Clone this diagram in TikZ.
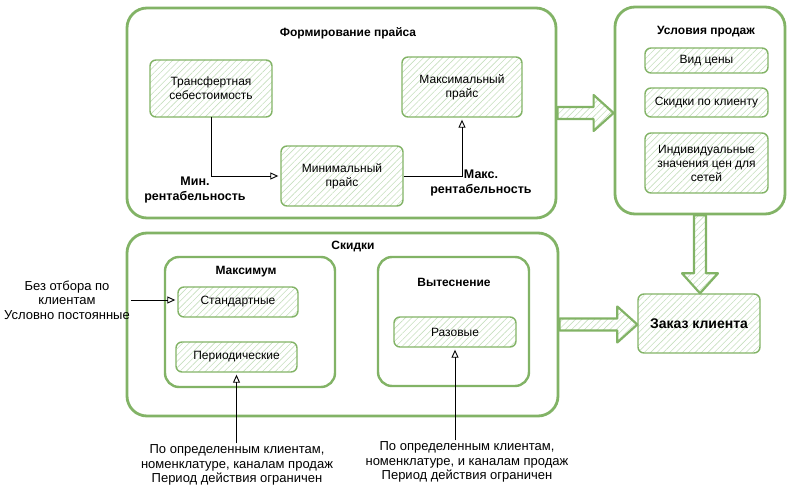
\documentclass[tikz,border=0pt]{standalone}
\usepackage{fontspec}
\setmainfont{Liberation Sans}
\usetikzlibrary{arrows.meta,calc,patterns.meta}
\definecolor{sketchgreen}{HTML}{82B366}
\definecolor{hatchgreen}{HTML}{C6DFBE}

\begin{document}
\begin{tikzpicture}[x=1pt,y=-1pt]
    \tikzstyle{cont}=[draw=sketchgreen,line width=2.8pt,rounded corners=20pt,inner sep=0]
    \tikzstyle{sub}=[draw=sketchgreen,line width=2.4pt,rounded corners=14pt,inner sep=0]
    \tikzstyle{box}=[draw=sketchgreen,line width=1.4pt,rounded corners=6pt,inner sep=0,align=center,
        pattern={Lines[angle=45,distance=4.5pt,line width=0.6pt]},pattern color=hatchgreen,
        font=\fontsize{12}{14}\selectfont]
    \tikzstyle{ttl}=[font=\fontsize{12}{14}\selectfont\bfseries]
    \tikzstyle{lbl}=[align=center,inner sep=1pt,font=\fontsize{13}{14.5}\selectfont]
    \tikzstyle{blbl}=[lbl,font=\fontsize{12.5}{14.5}\selectfont\bfseries]
    \tikzstyle{arr}=[draw=black,line width=0.9pt,-{Triangle[open,length=8pt,width=7pt]},shorten >=2pt]
    \tikzstyle{flex}=[draw=sketchgreen,line width=2.2pt,line join=round,
        pattern={Lines[angle=45,distance=4.5pt,line width=0.6pt]},pattern color=hatchgreen]
    \newcommand{\flexarrow}[2]{
        \path ($(#2)!20pt!(#1)$) coordinate (hb);
        \draw[flex] ($(#1)!6pt!90:(#2)$) -- ($(hb)!6pt!-90:(#1)$) -- ($(hb)!18pt!-90:(#1)$)
            -- (#2) -- ($(hb)!18pt!90:(#1)$) -- ($(hb)!6pt!90:(#1)$) -- ($(#1)!6pt!-90:(#2)$) -- cycle;
    }
    \useasboundingbox (0,0) rectangle (796,494);

    % containers
    \path (341.5,113) node[cont,minimum width=429,minimum height=210] (fp) {};
    \path (700,110.5) node[cont,minimum width=170,minimum height=207] (usl) {};
    \path (342.5,324.5) node[cont,minimum width=431,minimum height=183] (sk) {};
    \path (250,322) node[sub,minimum width=170,minimum height=130] (mx) {};
    \path (453.5,321.5) node[sub,minimum width=151,minimum height=129] (vyt) {};

    \path (348,33) node[ttl] (fpt) {Формирование прайса};
    \path (706,32) node[ttl] (uslt) {Условия продаж};
    \path (353,247) node[ttl] (skt) {Скидки};
    \path (246,272) node[ttl] (mxt) {Максимум};
    \path (454,282) node[ttl] (vytt) {Вытеснение};

    % boxes
    \path (211,88.5) node[box,minimum width=122,minimum height=57] (trans) {Трансфертная\\себестоимость};
    \path (462,87) node[box,minimum width=120,minimum height=60] (maxp) {Максимальный\\прайс};
    \path (342,176) node[box,minimum width=122,minimum height=60] (minp) {Минимальный\\прайс};
    \path (706.5,60.5) node[box,minimum width=123,minimum height=25] (vid) {Вид цены};
    \path (706.5,102.5) node[box,minimum width=123,minimum height=29] (skk) {Скидки по клиенту};
    \path (706.5,163) node[box,minimum width=123,minimum height=60] (ind) {Индивидуальные\\значения цен для\\сетей};
    \path (238,302) node[box,minimum width=120,minimum height=30] (std) {Стандартные};
    \path (236.5,357) node[box,minimum width=121,minimum height=30] (per) {Периодические};
    \path (455,332) node[box,minimum width=122,minimum height=30] (raz) {Разовые};
    \path (699,323.5) node[box,minimum width=122,minimum height=59,font=\fontsize{14}{16}\selectfont\bfseries] (zak) {Заказ клиента};

    % labels
    \path (195,190) node[blbl] (lmin) {Мин.\\рентабельность};
    \path (481,183) node[blbl] (lmax) {Макс.\\рентабельность};
    \path (67,300) node[lbl] (lbez) {Без отбора по\\клиентам\\Условно постоянные};
    \path (237,465) node[lbl] (lper) {По определенным клиентам,\\номенклатуре, каналам продаж\\Период действия ограничен};
    \path (467,462) node[lbl] (lraz) {По определенным клиентам,\\номенклатуре, и каналам продаж\\Период действия ограничен};

    % arrows
    \draw[arr] (trans.south) |- (minp.west);
    \draw[arr] (minp.east) -| (maxp.south);
    \draw[arr] (lbez.east) -- (lbez.east -| std.west);
    \draw[arr] (per.south |- lper.north) -- (per.south);
    \draw[arr] (raz.south |- lraz.north) -- (raz.south);

    % big arrows
    \coordinate (f1a) at (fp.east);
    \coordinate (f1b) at (fp.east -| usl.west);
    \flexarrow{f1a}{f1b}
    \coordinate (f2a) at (usl.south);
    \coordinate (f2b) at (usl.south |- zak.north);
    \flexarrow{f2a}{f2b}
    \coordinate (f3a) at (sk.east);
    \coordinate (f3b) at (sk.east -| zak.west);
    \flexarrow{f3a}{f3b}
\end{tikzpicture}
\end{document}
